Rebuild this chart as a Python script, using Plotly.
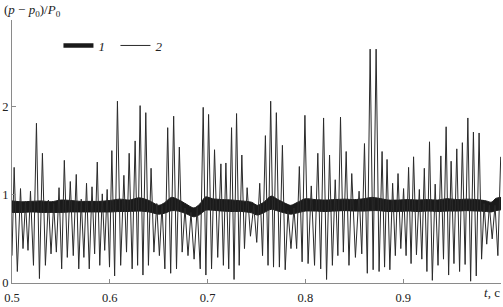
import plotly.graph_objects as go

# ---- signal 2: peak times / values and trough values (trough before each peak)
peak_t = [0.5022, 0.5087, 0.5138, 0.5189, 0.5250, 0.5311, 0.5372, 0.5426, 0.5481, 0.5535,
          0.5596, 0.5657, 0.5708, 0.5762, 0.5818, 0.5872, 0.5923, 0.5973, 0.6021, 0.6078,
          0.6144, 0.6198, 0.6259,
          0.6310, 0.6368, 0.6422, 0.6480, 0.6534, 0.6592, 0.6653, 0.6711, 0.6769, 0.6830,
          0.6894, 0.6955, 0.7010, 0.7071, 0.7136, 0.7187, 0.7245, 0.7296, 0.7350, 0.7404,
          0.7472, 0.7533,
          0.7591, 0.7645, 0.7703, 0.7765, 0.7822, 0.7883, 0.7938, 0.7995, 0.8060, 0.8127,
          0.8186, 0.8247, 0.8305, 0.8359, 0.8417, 0.8474, 0.8549, 0.8604, 0.8662, 0.8723,
          0.8784, 0.8835,
          0.8892, 0.8947, 0.9004, 0.9055, 0.9106, 0.9165, 0.9216, 0.9269, 0.9327, 0.9385,
          0.9439, 0.9490, 0.9548, 0.9605, 0.9661, 0.9718, 0.9776, 0.9827, 0.9881, 0.9939,
          0.9997]
peak_v = [1.31, 1.07, 0.92, 1.04, 1.81, 1.47, 0.94, 0.90, 1.08, 1.39, 1.15, 1.23, 0.95,
          1.13, 1.09, 1.37, 1.01, 1.06, 1.50, 2.06, 1.22, 1.47, 1.61,
          2.01, 1.93, 1.30, 0.90, 0.88, 1.76, 1.89, 1.54, 0.85, 0.80, 0.86, 1.99, 1.91,
          1.51, 1.35, 1.36, 1.76, 1.92, 1.45, 1.08, 0.88, 1.13,
          1.67, 2.06, 1.93, 1.56, 0.82, 0.85, 1.32, 1.90, 1.10, 1.47, 1.87, 1.45, 1.17,
          1.88, 1.49, 1.24, 1.04, 1.58, 2.65, 2.65, 1.49, 1.40,
          1.13, 1.24, 1.07, 1.31, 1.43, 1.06, 1.30, 1.60, 1.12, 1.44, 1.77, 1.38, 1.52,
          1.59, 1.87, 1.71, 1.70, 0.90, 0.88, 0.88, 1.43]
trough_v = [0.31, 0.13, 0.39, 0.37, 0.20, 0.05, 0.20, 0.33, 0.35, 0.16, 0.29, 0.31, 0.16,
            0.29, 0.16, 0.33, 0.20, 0.37, 0.18, 0.08, 0.20, 0.35, 0.16,
            0.20, 0.09, 0.20, 0.35, 0.31, 0.16, 0.11, 0.16, 0.35, 0.31, 0.27, 0.16, 0.09,
            0.16, 0.29, 0.20, 0.16, 0.04, 0.20, 0.39, 0.53, 0.46,
            0.31, 0.20, 0.18, 0.18, 0.15, 0.39, 0.39, 0.24, 0.22, 0.20, 0.16, 0.04, 0.20,
            0.31, 0.35, 0.20, 0.29, 0.33, 0.11, 0.15, 0.13, 0.18,
            0.15, 0.31, 0.39, 0.31, 0.22, 0.32, 0.27, 0.13, 0.03, 0.20, 0.27, 0.09, 0.22,
            0.13, 0.21, 0.02, 0.08, 0.27, 0.44, 0.50, 0.31]

# ---- signal 1: thick band (centre and half thickness)
band_t = [0.500, 0.510, 0.520, 0.530, 0.540, 0.550, 0.560, 0.570, 0.580, 0.590, 0.600,
          0.610, 0.620, 0.630, 0.640, 0.650, 0.656, 0.663, 0.670, 0.678, 0.686, 0.692,
          0.698, 0.705, 0.715, 0.725, 0.735, 0.745, 0.751, 0.758, 0.765, 0.772, 0.780,
          0.785, 0.792, 0.800, 0.810, 0.820, 0.830, 0.840, 0.850, 0.860, 0.868, 0.875,
          0.885, 0.895, 0.905, 0.915, 0.925, 0.935, 0.945, 0.955, 0.965, 0.975, 0.985,
          0.990, 0.995, 1.000]
band_c = [0.865, 0.86, 0.865, 0.865, 0.86, 0.87, 0.87, 0.865, 0.865, 0.865, 0.87,
          0.88, 0.875, 0.89, 0.87, 0.83, 0.85, 0.895, 0.88, 0.84, 0.80, 0.835,
          0.90, 0.89, 0.88, 0.875, 0.87, 0.855, 0.825, 0.86, 0.91, 0.88, 0.845,
          0.83, 0.855, 0.885, 0.88, 0.875, 0.88, 0.885, 0.88, 0.885, 0.895, 0.89,
          0.875, 0.875, 0.88, 0.875, 0.88, 0.875, 0.885, 0.88, 0.885, 0.88, 0.87,
          0.86, 0.89, 0.90]
band_h = [0.065, 0.06, 0.06, 0.065, 0.06, 0.07, 0.065, 0.06, 0.06, 0.06, 0.065,
          0.07, 0.065, 0.075, 0.065, 0.05, 0.06, 0.075, 0.065, 0.055, 0.05, 0.06,
          0.075, 0.065, 0.065, 0.065, 0.06, 0.06, 0.055, 0.06, 0.075, 0.065, 0.055,
          0.05, 0.06, 0.07, 0.065, 0.065, 0.065, 0.065, 0.065, 0.07, 0.075, 0.07,
          0.065, 0.065, 0.065, 0.065, 0.065, 0.065, 0.07, 0.065, 0.065, 0.065, 0.06,
          0.055, 0.07, 0.07]

x_ticks = [0.5, 0.6, 0.7, 0.8, 0.9, 1.0]
x_ticktext = ["0.5", "0.6", "0.7", "0.8", "0.9", ""]
y_ticks = [0, 1, 2]

# build signal 2 path: trough before each peak, then the peak
sig_t, sig_v = [], []
prev = 0.5
for i, (pt, pv) in enumerate(zip(peak_t, peak_v)):
    tt = prev if i == 0 else (prev + pt) / 2
    sig_t += [tt, pt]
    sig_v += [trough_v[i], pv]
    prev = pt

upper = [c + h for c, h in zip(band_c, band_h)]
lower = [c - h for c, h in zip(band_c, band_h)]

serif = "Liberation Serif, Times New Roman, Times, serif"
ink = "#1a1a1a"
fig = go.Figure()
fig.add_trace(go.Scatter(x=band_t, y=lower, mode="lines",
                         line=dict(color=ink, width=1, shape="spline", smoothing=0.8),
                         showlegend=False, hoverinfo="skip"))
fig.add_trace(go.Scatter(x=band_t, y=upper, mode="lines", fill="tonexty",
                         fillcolor=ink,
                         line=dict(color=ink, width=1, shape="spline", smoothing=0.8),
                         showlegend=False, hoverinfo="skip"))
fig.add_trace(go.Scatter(x=[None], y=[None], mode="lines", name="<i>1</i>",
                         line=dict(color=ink, width=4.5)))
fig.add_trace(go.Scatter(x=sig_t, y=sig_v, mode="lines", name="<i>2</i>",
                         line=dict(color="#2a2a2a", width=1)))

axis_col = "#8a8a8a"
fig.update_layout(
    width=503, height=307,
    margin=dict(l=10, r=2, t=20, b=18),
    paper_bgcolor="white", plot_bgcolor="white",
    font=dict(family=serif, size=12, color="#222"),
    showlegend=True,
    legend=dict(orientation="h", x=0.095, y=0.903, xanchor="left", yanchor="middle",
                traceorder="normal",
                bgcolor="rgba(0,0,0,0)", font=dict(family=serif, size=13, color="#222"),
                entrywidth=12, entrywidthmode="pixels", itemclick=False),
    xaxis=dict(range=[0.5, 1.0], tickvals=x_ticks, ticktext=x_ticktext,
               showgrid=False, zeroline=False, showline=True, linecolor=axis_col,
               linewidth=1, ticks="inside", ticklen=4, tickcolor=axis_col,
               ticklabelstandoff=3,
               tickfont=dict(family=serif, size=12.5, color="#222")),
    yaxis=dict(range=[0, 2.98], tickvals=y_ticks, showgrid=False, zeroline=False,
               showline=True, linecolor=axis_col, linewidth=1, ticks="inside",
               ticklen=4, tickcolor=axis_col,
               tickfont=dict(family=serif, size=12.5, color="#222")),
    annotations=[
        dict(text="(<i>p</i> − <i>p</i><sub>0</sub>)/<i>P</i><sub>0</sub>",
             xref="paper", yref="paper", x=0, xshift=-10, y=1.0743,
             xanchor="left", yanchor="top", showarrow=False,
             font=dict(family=serif, size=13, color="#222")),
        dict(text="<i>t</i>, c", xref="paper", yref="paper", x=1.002, y=-0.037,
             xanchor="right", yanchor="middle", showarrow=False,
             font=dict(family=serif, size=13, color="#222")),
    ],
)
fig.write_html("out.html")
